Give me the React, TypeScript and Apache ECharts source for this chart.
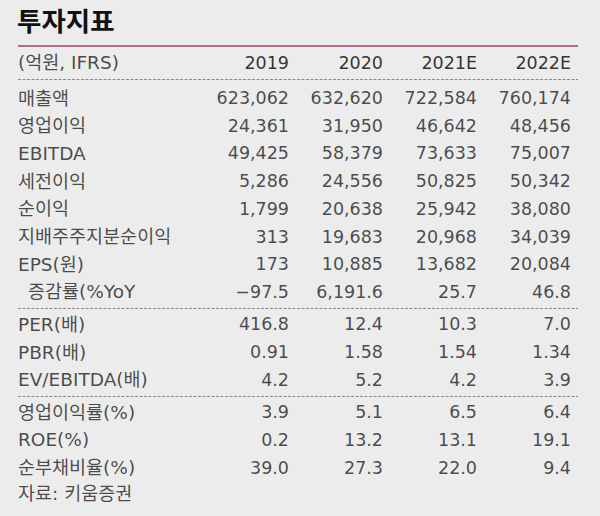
import React, { useEffect, useRef } from 'react';
import * as echarts from 'echarts';

const TITLE = '투자지표';
const UNIT_LABEL = '(억원, IFRS)';
const SOURCE_NOTE = '자료: 키움증권';
const YEARS = ['2019', '2020', '2021E', '2022E'];
const ROW_LABELS = [
  '매출액', '영업이익', 'EBITDA', '세전이익', '순이익', '지배주주지분순이익', 'EPS(원)', '증감률(%YoY',
  'PER(배)', 'PBR(배)', 'EV/EBITDA(배)',
  '영업이익률(%)', 'ROE(%)', '순부채비율(%)',
];
const ROW_GROUPS = [0, 0, 0, 0, 0, 0, 0, 0, 1, 1, 1, 2, 2, 2];
const ROW_DECIMALS = [0, 0, 0, 0, 0, 0, 0, 1, 1, 2, 1, 1, 1, 1];
const INDENTED_ROWS = ['증감률(%YoY'];
const V2019 = [623062, 24361, 49425, 5286, 1799, 313, 173, -97.5, 416.8, 0.91, 4.2, 3.9, 0.2, 39.0];
const V2020 = [632620, 31950, 58379, 24556, 20638, 19683, 10885, 6191.6, 12.4, 1.58, 5.2, 5.1, 13.2, 27.3];
const V2021 = [722584, 46642, 73633, 50825, 25942, 20968, 13682, 25.7, 10.3, 1.54, 4.2, 6.5, 13.1, 22.0];
const V2022 = [760174, 48456, 75007, 50342, 38080, 34039, 20084, 46.8, 7.0, 1.34, 3.9, 6.4, 19.1, 9.4];
const YEAR_VALUES = [V2019, V2020, V2021, V2022];

// layout
const W = 600;
const H = 516;
const GROUP_GAP = 0.17;
const HEADER_POS = -1.27;
const TOP_RULE_POS = -1.89;
const SEP_OFFSET = 0.6;
const ROW_PX = 27.7;
const ROW0_PX = 98;
const Y_MIN = -2.5;
const Y_MAX = 15;
const X_MIN = -1.883;
const X_MAX = 4.0745;
const FONT = "'DejaVu Sans', 'Noto Sans CJK KR', sans-serif";
const FONT_SIZE = 17.5;
const LABEL_FONT_SIZE = 18.5;
const TEXT_COLOR = '#1e1e1e';

const rowPos = (i: number) => i + ROW_GROUPS[i] * GROUP_GAP;
const sourcePos = ROW_LABELS.length + 2 * GROUP_GAP - 0.05;

function fmt(v: number, d: number) {
  const s = Math.abs(v).toLocaleString('en-US', { minimumFractionDigits: d, maximumFractionDigits: d });
  return v < 0 ? '\u2212' + s : s;
}

function buildOption() {
  const separators: number[] = [HEADER_POS + SEP_OFFSET];
  for (let i = 0; i < ROW_GROUPS.length - 1; i++) {
    if (ROW_GROUPS[i + 1] !== ROW_GROUPS[i]) separators.push(rowPos(i) + SEP_OFFSET);
  }
  const baseLabel = {
    show: true,
    fontFamily: FONT,
    fontSize: FONT_SIZE,
    color: TEXT_COLOR,
    distance: 0,
  };

  const labelSeries = {
    type: 'scatter',
    symbolSize: 0,
    silent: true,
    data: [
      { value: [X_MIN, HEADER_POS], name: UNIT_LABEL },
      ...ROW_LABELS.map((l, i) => ({
        value: [X_MIN, rowPos(i)],
        name: l,
        label: INDENTED_ROWS.includes(l) ? { padding: [0, 0, 0, 10] } : undefined,
      })),
      { value: [X_MIN, sourcePos], name: SOURCE_NOTE },
    ],
    label: { ...baseLabel, fontSize: LABEL_FONT_SIZE, position: 'right', formatter: (p: any) => p.name },
    markLine: {
      silent: true,
      symbol: ['none', 'none'],
      label: { show: false },
      lineStyle: { color: '#8c8c8c', width: 1, type: [3, 1.5] },
      data: [
        [
          { coord: [X_MIN, TOP_RULE_POS], lineStyle: { color: '#b56d82', width: 2, type: 'solid' } },
          { coord: [X_MAX, TOP_RULE_POS] },
        ],
        ...separators.map((s) => [{ coord: [X_MIN, s] }, { coord: [X_MAX, s] }]),
      ],
    },
  };

  const headerSeries = {
    type: 'scatter',
    symbolSize: 0,
    silent: true,
    data: YEARS.map((y, c) => ({ value: [c + 1, HEADER_POS], name: y })),
    label: { ...baseLabel, color: '#000', fontWeight: 500, position: 'left', formatter: (p: any) => p.name },
  };

  const valueSeries = YEAR_VALUES.map((vals, c) => ({
    type: 'scatter',
    symbolSize: 0,
    silent: true,
    data: vals.map((v, i) => ({ value: [c + 1, rowPos(i)], name: fmt(v, ROW_DECIMALS[i]) })),
    label: { ...baseLabel, position: 'left', formatter: (p: any) => p.name },
  }));

  return {
    animation: false,
    backgroundColor: '#ececec',
    title: {
      text: TITLE,
      left: 17,
      top: 6,
      padding: 0,
      textStyle: { fontFamily: "'Noto Sans CJK KR', sans-serif", fontSize: 26.5, fontWeight: 'bold', color: '#111' },
    },
    grid: {
      left: 18,
      right: 22,
      top: ROW0_PX + Y_MIN * ROW_PX,
      bottom: H - (ROW0_PX + Y_MAX * ROW_PX),
    },
    xAxis: { type: 'value', min: X_MIN, max: X_MAX, show: false },
    yAxis: { type: 'value', min: Y_MIN, max: Y_MAX, inverse: true, show: false },
    series: [labelSeries, headerSeries, ...valueSeries],
  };
}

export default function App() {
  const ref = useRef<HTMLDivElement>(null);
  useEffect(() => {
    if (!ref.current) return;
    const chart = echarts.init(ref.current, undefined, { renderer: 'svg' });
    chart.setOption(buildOption() as any);
    return () => chart.dispose();
  }, []);
  return <div ref={ref} style={{ position: 'fixed', left: 0, top: 0, width: W, height: H }} />;
}
